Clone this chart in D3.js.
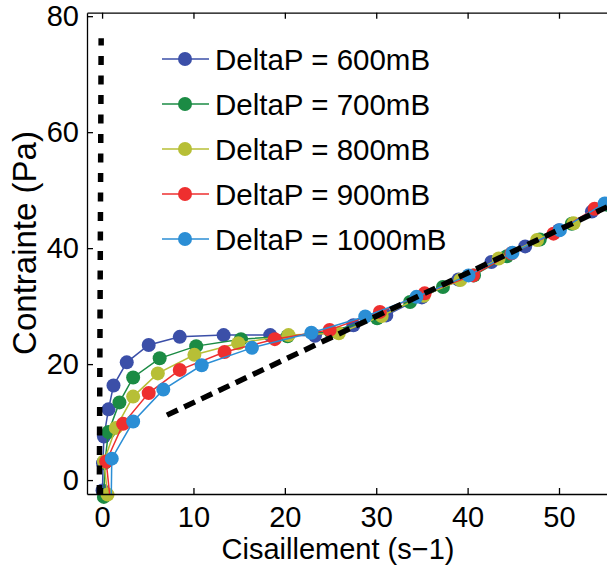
<!DOCTYPE html>
<html><head><meta charset="utf-8">
<script src="https://cdn.jsdelivr.net/npm/d3@7"></script>
<style>body{margin:0;background:#fff}text{font-family:"Liberation Sans",Arial,sans-serif;fill:#000}</style>
</head><body><svg id="c" width="607" height="567"></svg>
<script>
const seriesNames = ["DeltaP = 600mB","DeltaP = 700mB","DeltaP = 800mB","DeltaP = 900mB","DeltaP = 1000mB"];
const seriesColors = ["#3b4fa8","#1b8b44","#b7bf36","#ee2f2f","#2b8ed5"];
const s600 = [[0.05,-1.8],[0.1,2.9],[0.2,7.5],[0.7,12.2],[1.25,16.3],[2.7,20.3],[5.1,23.3],[8.5,24.7],[13.3,25.0],[18.4,25.0],[23.3,24.9],[27.5,26.7],[31.1,28.4],[35.0,31.5],[39.0,34.6],[42.6,37.6],[46.3,40.3],[50.0,43.1],[53.6,46.3]];
const s700 = [[0.2,-2.9],[0.3,3.0],[0.7,8.3],[1.9,13.4],[3.4,17.7],[6.3,21.0],[10.3,23.1],[15.2,24.3],[20.3,24.8],[25.0,25.6],[30.1,27.9],[33.7,30.7],[37.3,33.3],[40.7,35.3],[44.3,38.6],[47.9,41.5],[51.4,44.2],[55.2,47.5]];
const s800 = [[0.6,-2.5],[0.2,3.2],[1.5,9.0],[3.4,14.4],[6.1,18.4],[10.1,21.6],[14.9,23.6],[20.4,25.0],[25.9,25.3],[30.6,28.3],[35.2,31.8],[39.2,34.5],[43.4,38.2],[47.6,41.4],[51.6,44.3]];
const s900 = [[0.9,-3.5],[0.45,3.2],[2.3,9.7],[5.1,15.0],[8.5,19.0],[13.4,22.1],[18.9,24.3],[24.9,25.9],[30.4,29.0],[35.3,32.2],[40.6,35.3],[44.8,39.1],[49.4,42.5],[53.9,46.8]];
const s1000 = [[1.0,-3.5],[1.06,3.7],[3.4,10.1],[6.7,15.6],[10.9,19.8],[16.4,22.8],[22.9,25.4],[28.8,28.2],[34.4,31.6],[40.1,35.3],[44.9,39.2],[50.1,43.1],[55.0,47.7]];
const seriesData = [s600,s700,s800,s900,s1000];
const xTicks = [0,10,20,30,40,50];
const yTicks = [0,20,40,60,80];
const fitVertical = [[-0.3,-2.4],[-0.1,76.2]];
const fitSlope = [[7.1,11.2],[55.8,47.5]];
const xLabel = "Cisaillement (s\u22121)";
const yLabel = "Contrainte (Pa)";

const svg = d3.select("#c");
const FS = 29;
const x = d3.scaleLinear().domain([-1.65,55.8]).range([87,612]);
const y = d3.scaleLinear().domain([-2.4,80.6]).range([494,12.7]);

svg.append("defs").append("clipPath").attr("id","clip")
  .append("rect").attr("x",87).attr("y",12.7).attr("width",525).attr("height",494-12.7);

const line = d3.line().x(d=>x(d[0])).y(d=>y(d[1]));
const plot = svg.append("g");

seriesData.forEach((s,i)=>{
  plot.append("path").datum(s).attr("d",line).attr("fill","none")
    .attr("stroke",seriesColors[i]).attr("stroke-width",1.5).attr("clip-path","url(#clip)");
  plot.selectAll(null).data(s.filter(d=>d[1]>=y.domain()[0]-0.5 && d[1]<=y.domain()[1]))
    .enter().append("circle").attr("cx",d=>x(d[0])).attr("cy",d=>y(d[1])).attr("r",7)
    .attr("fill",seriesColors[i]);
});

plot.append("path").datum(fitVertical).attr("d",line).attr("fill","none")
  .attr("stroke","#000").attr("stroke-width",5.5).attr("stroke-dasharray","9,10.5").attr("clip-path","url(#clip)");
plot.append("path").datum(fitSlope).attr("d",line).attr("fill","none")
  .attr("stroke","#000").attr("stroke-width",5.5).attr("stroke-dasharray","12,7").attr("clip-path","url(#clip)");

// axes
const gx = svg.append("g").attr("transform",`translate(0,${y.range()[0]})`)
  .call(d3.axisBottom(x).tickValues(xTicks).tickSize(-6).tickSizeOuter(0).tickPadding(12));
const gxt = svg.append("g").attr("transform",`translate(0,${y.range()[1]})`)
  .call(d3.axisTop(x).tickValues(xTicks).tickSize(-6).tickSizeOuter(0).tickFormat(""));
const gy = svg.append("g").attr("transform",`translate(${x.range()[0]},0)`)
  .call(d3.axisLeft(y).tickValues(yTicks).tickSize(-6).tickSizeOuter(0).tickPadding(8));
[gx,gxt,gy].forEach(g=>{
  g.selectAll("path,line").attr("stroke","#000").attr("stroke-width",1.3);
  g.selectAll("text").style("font-size",FS+"px").style("font-family",'"Liberation Sans",Arial,sans-serif').attr("fill","#000");
});

svg.append("text").attr("x",338).attr("y",559).attr("text-anchor","middle")
  .style("font-size",FS+"px").text(xLabel);
svg.append("text").attr("transform","translate(36,243) rotate(-90)").attr("text-anchor","middle")
  .style("font-size","33px").text(yLabel);

// legend
const legRows = seriesNames.map((n,i)=>({n,c:seriesColors[i],i}));
const lg = svg.append("g");
legRows.forEach(r=>{
  const cy = 59 + r.i*45;
  lg.append("line").attr("x1",162).attr("x2",209).attr("y1",cy).attr("y2",cy).attr("stroke",r.c).attr("stroke-width",1.5);
  lg.append("circle").attr("cx",185).attr("cy",cy).attr("r",7).attr("fill",r.c);
  lg.append("text").attr("x",215).attr("y",cy).attr("dy","0.36em").style("font-size","29.5px").text(r.n);
});
</script></body></html>
